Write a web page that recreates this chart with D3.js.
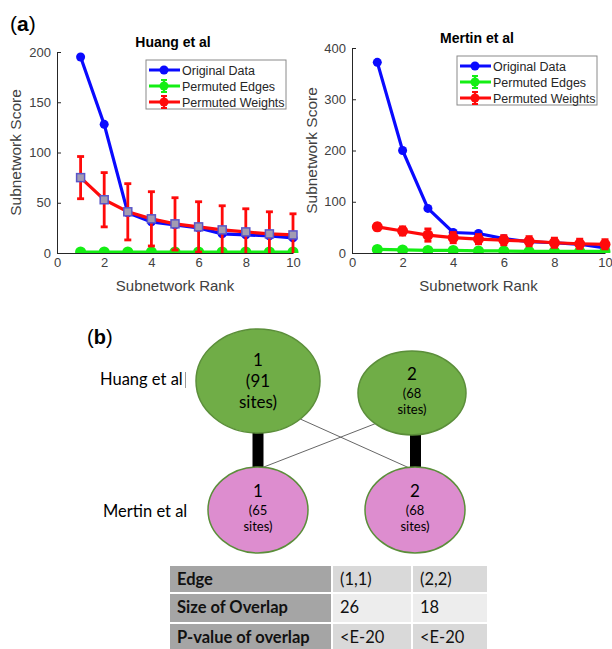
<!DOCTYPE html>
<html>
<head>
<meta charset="utf-8">
<script src="https://cdn.jsdelivr.net/npm/d3@7"></script>
<style>
body{margin:0;background:#fff;}
svg{display:block;}
</style>
</head>
<body>
<div id="chart"></div>
<script>
// ---- panel (a) data ----
var ranks = [1, 2, 3, 4, 5, 6, 7, 8, 9, 10];
var xTicks = [0, 2, 4, 6, 8, 10];

var huangOriginal = [195, 128, 40, 31, 28, 25, 19, 18, 17, 15];
var huangEdges = [1, 1, 1, 1, 1, 1, 1, 1, 1, 1];
var huangEdgesErr = [0.5, 0.5, 0.5, 0.5, 0.5, 0.5, 0.5, 0.5, 0.5, 0.5];
var huangWeights = [75, 53, 41, 34, 29, 26, 23, 21, 19, 18];
var huangWeightsErr = [21, 27, 28, 27, 26, 25, 24, 23, 22, 21];
var huangTicks = [0, 50, 100, 150, 200];

var mertinOriginal = [372, 200, 87, 40, 38, 28, 22, 20, 17, 10];
var mertinEdges = [7, 6, 5, 5, 4, 4, 3, 3, 3, 3];
var mertinEdgesErr = [1.5, 1.5, 1.5, 1.5, 1.5, 1.5, 1.5, 1.5, 1.5, 1.5];
var mertinWeights = [51, 43, 35, 30, 27, 25, 23, 20, 18, 17];
var mertinWeightsErr = [6, 8, 12, 10, 9, 9, 9, 9, 9, 9];
var mertinTicks = [0, 100, 200, 300, 400];

var seriesNames = ["Original Data", "Permuted Edges", "Permuted Weights"];

// ---- panel (b) data ----
var groups = ["Huang et al", "Mertin et al"];
var subnetworkIds = [1, 2];
var huangSites = [91, 68];
var mertinSites = [65, 68];
var edgePairs = [[1, 1], [1, 2], [2, 1], [2, 2]];
var tableRowLabels = ["Edge", "Size of Overlap", "P-value of overlap"];
var edgeLabels = ["(1,1)", "(2,2)"];
var overlapSizes = [26, 18];
var overlapPvalues = ["<E-20", "<E-20"];

var svg = d3.select("#chart").append("svg")
	.attr("width", 612)
	.attr("height", 649);

var axisFont = "'Liberation Sans', Arial, sans-serif";
var diagramFont = "Lato, 'Open Sans', sans-serif";

function drawLinePanel(p){
	var x = d3.scaleLinear().domain([0, 10]).range([p.left, p.right]);
	var y = d3.scaleLinear().domain([0, p.yMax]).range([p.bottom, p.top]);
	var g = svg.append("g");

	var clipId = "clip" + p.id;
	svg.append("clipPath").attr("id", clipId)
		.append("rect")
		.attr("x", p.left).attr("y", p.top - 10)
		.attr("width", p.right - p.left + 10)
		.attr("height", p.bottom - p.top + 10);

	var xAxis = g.append("g")
		.attr("transform", "translate(0," + p.bottom + ")")
		.call(d3.axisBottom(x).tickValues(xTicks).tickSizeInner(-4).tickSizeOuter(0).tickPadding(5));
	var yAxis = g.append("g")
		.attr("transform", "translate(" + p.left + ",0)")
		.call(d3.axisLeft(y).tickValues(p.yTicks).tickSizeInner(-4).tickSizeOuter(0).tickPadding(6));
	[xAxis, yAxis].forEach(function(a){
		a.selectAll("path, line").attr("stroke", "#262626");
		a.selectAll("text").attr("fill", "#404040").style("font-family", axisFont).style("font-size", "13px");
	});

	g.append("text")
		.attr("x", p.titleX).attr("y", p.titleY)
		.attr("text-anchor", "middle")
		.style("font-family", axisFont).style("font-size", "14px").style("font-weight", "bold")
		.text(p.title);
	g.append("text")
		.attr("x", (p.left + p.right) / 2).attr("y", 291)
		.attr("text-anchor", "middle")
		.attr("fill", "#404040")
		.style("font-family", axisFont).style("font-size", "15px")
		.text("Subnetwork Rank");
	g.append("text")
		.attr("transform", "translate(" + p.yLabelX + "," + ((p.top + p.bottom) / 2) + ") rotate(-90)")
		.attr("text-anchor", "middle")
		.attr("fill", "#404040")
		.style("font-family", axisFont).style("font-size", "15.5px")
		.text("Subnetwork Score");

	var plot = g.append("g").attr("clip-path", "url(#" + clipId + ")");
	var line = d3.line().x(function(d){return x(d.r)}).y(function(d){return y(d.v)});

	p.series.forEach(function(s){
		var pts = ranks.map(function(r, i){
			return {r: r, v: s.values[i], e: s.err ? s.err[i] : 0};
		});
		if(s.err){
			var eb = plot.append("g").attr("stroke", s.color).attr("stroke-width", 2.8);
			eb.selectAll("line.v").data(pts).enter().append("line")
				.attr("x1", function(d){return x(d.r)}).attr("x2", function(d){return x(d.r)})
				.attr("y1", function(d){return y(Math.max(0, d.v - d.e))})
				.attr("y2", function(d){return y(d.v + d.e)});
			eb.selectAll("line.t").data(pts).enter().append("line")
				.attr("x1", function(d){return x(d.r) - 3.5}).attr("x2", function(d){return x(d.r) + 3.5})
				.attr("y1", function(d){return y(d.v + d.e)}).attr("y2", function(d){return y(d.v + d.e)});
			eb.selectAll("line.b").data(pts.filter(function(d){return d.v - d.e > 0})).enter().append("line")
				.attr("x1", function(d){return x(d.r) - 3.5}).attr("x2", function(d){return x(d.r) + 3.5})
				.attr("y1", function(d){return y(d.v - d.e)}).attr("y2", function(d){return y(d.v - d.e)});
		}
		plot.append("path").datum(pts)
			.attr("fill", "none").attr("stroke", s.color).attr("stroke-width", 3.2)
			.attr("d", line);
		if(s.marker == "square"){
			plot.selectAll(null).data(pts).enter().append("rect")
				.attr("x", function(d){return x(d.r) - 4}).attr("y", function(d){return y(d.v) - 4})
				.attr("width", 8).attr("height", 8)
				.attr("fill", "#a29cb2").attr("stroke", "#5a56c8").attr("stroke-width", 1.5);
		} else {
			plot.selectAll(null).data(pts).enter().append("circle")
				.attr("cx", function(d){return x(d.r)}).attr("cy", function(d){return y(d.v)})
				.attr("r", s.r || 4.5)
				.attr("fill", s.color);
		}
	});

	// legend
	var lg = g.append("g").attr("transform", "translate(" + p.legendX + "," + p.legendY + ")");
	lg.append("rect").attr("width", 140).attr("height", 49)
		.attr("fill", "#fff").attr("stroke", "#8a8a8a").attr("stroke-width", 1);
	p.series.forEach(function(s, i){
		var ly = 10 + i * 16;
		var row = lg.append("g").attr("transform", "translate(0," + ly + ")");
		row.append("line").attr("x1", 3).attr("x2", 34).attr("stroke", s.color).attr("stroke-width", 3);
		row.append("circle").attr("cx", 18).attr("r", 4.5).attr("fill", s.color);
		if(s.err){
			row.append("line").attr("x1", 18).attr("x2", 18).attr("y1", -6).attr("y2", 6).attr("stroke", s.color).attr("stroke-width", 2);
			row.append("line").attr("x1", 15).attr("x2", 21).attr("y1", -6).attr("y2", -6).attr("stroke", s.color).attr("stroke-width", 2);
			row.append("line").attr("x1", 15).attr("x2", 21).attr("y1", 6).attr("y2", 6).attr("stroke", s.color).attr("stroke-width", 2);
		}
		row.append("text").attr("x", 36).attr("y", 4.5)
			.style("font-family", axisFont).style("font-size", "12.5px").attr("fill", "#262626")
			.text(seriesNames[i]);
	});
}

// panel label (a)
var la = svg.append("text").attr("x", 10).attr("y", 31)
	.style("font-family", axisFont).style("font-size", "21px");
la.append("tspan").text("(");
la.append("tspan").style("font-weight", "bold").text("a");
la.append("tspan").text(")");

drawLinePanel({
	id: "h", left: 57, right: 293, top: 52, bottom: 253, yMax: 200, yTicks: huangTicks,
	title: "Huang et al", titleX: 173, titleY: 47, yLabelX: 21,
	legendX: 146, legendY: 60,
	series: [
		{values: huangOriginal, color: "#0a0aff"},
		{values: huangEdges, err: huangEdgesErr, color: "#14ee14", r: 5.5},
		{values: huangWeights, err: huangWeightsErr, color: "#ff0a0a", marker: "square"}
	]
});
drawLinePanel({
	id: "m", left: 352, right: 605, top: 48, bottom: 253, yMax: 400, yTicks: mertinTicks,
	title: "Mertin et al", titleX: 477, titleY: 43, yLabelX: 317,
	legendX: 457, legendY: 56,
	series: [
		{values: mertinOriginal, color: "#0a0aff"},
		{values: mertinEdges, err: mertinEdgesErr, color: "#14ee14", r: 5.5},
		{values: mertinWeights, err: mertinWeightsErr, color: "#ff0a0a", r: 5.5}
	]
});

// ---- panel (b): overlap network ----
var lb = svg.append("text").attr("x", 87).attr("y", 344)
	.style("font-family", axisFont).style("font-size", "20px");
lb.append("tspan").text("(");
lb.append("tspan").style("font-weight", "bold").text("b");
lb.append("tspan").text(")");

// node geometry (layout only)
var nodeLayout = {
	"0-1": {cx: 258, cy: 381, rx: 62, ry: 52, big: true},
	"0-2": {cx: 412, cy: 393, rx: 54, ry: 42},
	"1-1": {cx: 258, cy: 510, rx: 50, ry: 43},
	"1-2": {cx: 415, cy: 510, rx: 50, ry: 43}
};
var linkAngles = {"1-1": [90, -90], "1-2": [47, -98], "2-1": [133, -84], "2-2": [90, -90]};
var groupColors = ["#70ad47", "#dd8dcf"];
var groupLabelY = [385, 517];

var nodes = [];
groups.forEach(function(gName, gi){
	var sites = gi == 0 ? huangSites : mertinSites;
	subnetworkIds.forEach(function(id, i){
		var l = nodeLayout[gi + "-" + id];
		nodes.push({group: gi, id: id, sites: sites[i], cx: l.cx, cy: l.cy, rx: l.rx, ry: l.ry, big: l.big});
	});
});
function findNode(gi, id){
	return nodes.filter(function(n){return n.group == gi && n.id == id})[0];
}
function ellipsePoint(n, deg){
	var a = deg * Math.PI / 180;
	return [n.cx + n.rx * Math.cos(a), n.cy + n.ry * Math.sin(a)];
}

var net = svg.append("g");
edgePairs.forEach(function(pair){
	var s = findNode(0, pair[0]), t = findNode(1, pair[1]);
	var ang = linkAngles[pair[0] + "-" + pair[1]];
	var matched = pair[0] == pair[1];
	if(matched){
		var mx = (s.cx + t.cx) / 2 + (pair[0] == 2 ? 2 : 0);
		net.append("line")
			.attr("x1", mx).attr("x2", mx)
			.attr("y1", s.cy + s.ry - 2).attr("y2", t.cy - t.ry + 2)
			.attr("stroke", "#000").attr("stroke-width", 11);
	} else {
		var a = ellipsePoint(s, ang[0]), b = ellipsePoint(t, ang[1]);
		net.append("line")
			.attr("x1", a[0]).attr("y1", a[1]).attr("x2", b[0]).attr("y2", b[1])
			.attr("stroke", "#555").attr("stroke-width", 0.9);
	}
});

var nodeG = net.selectAll("g.node").data(nodes).enter().append("g").attr("class", "node");
nodeG.append("ellipse")
	.attr("cx", function(d){return d.cx}).attr("cy", function(d){return d.cy})
	.attr("rx", function(d){return d.rx}).attr("ry", function(d){return d.ry})
	.attr("fill", function(d){return groupColors[d.group]})
	.attr("stroke", "#5b8e3a").attr("stroke-width", 1.5);
nodeG.each(function(d){
	var t = d3.select(this);
	var lines = [String(d.id), "(" + d.sites, "sites)"];
	var offs = d.big ? [-15, 6, 27] : [-13, 5, 21];
	var sizes = d.big ? [17, 17, 17] : [17, 13, 13];
	lines.forEach(function(s, i){
		t.append("text")
			.attr("x", d.cx).attr("y", d.cy + offs[i])
			.attr("text-anchor", "middle")
			.style("font-family", diagramFont).style("font-size", sizes[i] + "px")
			.text(s);
	});
});

groups.forEach(function(gName, gi){
	svg.append("text")
		.attr("x", gi == 0 ? 100 : 103).attr("y", groupLabelY[gi])
		.style("font-family", diagramFont).style("font-size", "16.5px")
		.text(gName);
});
svg.append("line").attr("x1", 185.5).attr("x2", 185.5).attr("y1", 372).attr("y2", 388)
	.attr("stroke", "#999").attr("stroke-width", 1);

// ---- overlap table ----
var colX = [169, 332, 412, 488];
var rowY = [565, 593, 623, 653];
var tableCells = [
	[tableRowLabels[0]].concat(edgeLabels),
	[tableRowLabels[1]].concat(overlapSizes.map(String)),
	[tableRowLabels[2]].concat(overlapPvalues)
];
var rowFill = ["#d9d9d9", "#ededed", "#d9d9d9"];
var table = svg.append("g");
tableCells.forEach(function(row, ri){
	row.forEach(function(cell, ci){
		table.append("rect")
			.attr("x", colX[ci]).attr("y", rowY[ri])
			.attr("width", colX[ci + 1] - colX[ci]).attr("height", rowY[ri + 1] - rowY[ri])
			.attr("fill", ci == 0 ? "#a5a5a5" : rowFill[ri])
			.attr("stroke", "#fff").attr("stroke-width", 2);
		table.append("text")
			.attr("x", colX[ci] + 8).attr("y", rowY[ri] + 20)
			.style("font-family", diagramFont).style("font-size", "16.5px")
			.style("font-weight", ci == 0 ? "bold" : "normal")
			.attr("fill", "#111")
			.text(cell);
	});
});
</script>
</body>
</html>
